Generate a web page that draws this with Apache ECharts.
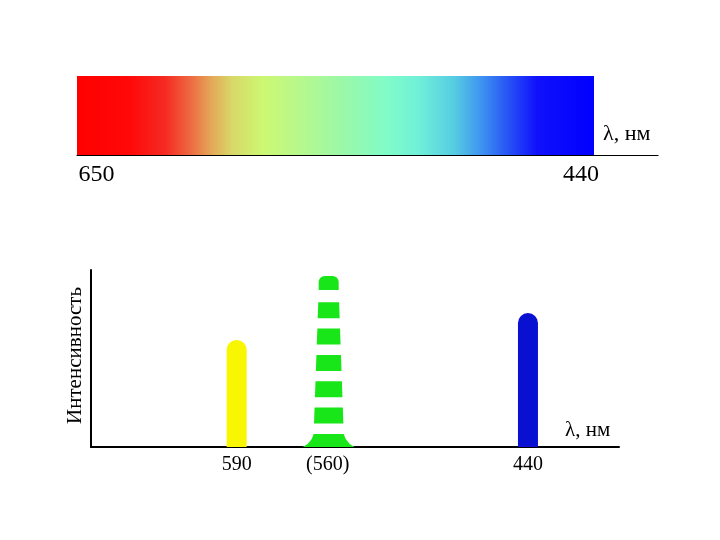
<!DOCTYPE html>
<html><head><meta charset="utf-8">
<script src="https://cdn.jsdelivr.net/npm/echarts@6/dist/echarts.min.js"></script>
<style>html,body{margin:0;background:#fff}#c{width:720px;height:540px}</style>
</head><body><div id="c"></div>
<script>
// ---- data ----
const spectrumRange = [650, 440];          // visible spectrum band (nm)
const spectrumTicks = [650, 440];          // tick labels under the band
const axisUnit = 'λ, нм';
const yTitle = 'Интенсивность';
const lineLabels = ['590', '(560)', '440'];  // emission lines
const lineIntensity = [60.5, 96.6, 75.7];
const lineSlots = [8, 13, 24];               // category slot of each line
const slotCount = 30;

// ---- build ----
const categories = Array.from({length: slotCount}, (_, i) => {
  const k = lineSlots.indexOf(i);
  return k >= 0 ? lineLabels[k] : '';
});
const SERIF = '"Liberation Serif", "DejaVu Serif", serif';
const colors = ['#f8f600', '#18e618', '#0a10d2'];

const gradStops = [
  [0, '#ff0000'], [0.1, '#ff0808'], [0.17, '#f52a22'], [0.22, '#ee6a42'],
  [0.26, '#e4a858'], [0.3, '#d8d868'], [0.36, '#ccf872'], [0.44, '#b4f890'],
  [0.52, '#98f8aa'], [0.6, '#80fcc8'], [0.66, '#70f0d8'], [0.73, '#56cce2'],
  [0.78, '#3f96f0'], [0.83, '#2858f4'], [0.89, '#1010fc'], [1, '#0000ff']
].map(s => ({offset: s[0], color: s[1]}));

const chart = echarts.init(document.getElementById('c'));
chart.setOption({
  backgroundColor: '#fff',
  animation: false,
  grid: [
    {left: 77, right: 62, top: 76, bottom: 385},
    {left: 91, right: 101, top: 270, bottom: 93}
  ],
  xAxis: [
    {
      gridIndex: 0, type: 'value', inverse: true, min: 414, max: 650,
      axisLine: {show: true, lineStyle: {color: '#000', width: 1.2}},
      axisTick: {show: false}, splitLine: {show: false},
      axisLabel: {
        customValues: spectrumTicks, margin: 8,
        fontFamily: SERIF, fontSize: 24, color: '#000',
        formatter: v => v === spectrumTicks[0] ? '{l|' + v + '}' : '{r|' + v + '}',
        rich: {
          l: {fontFamily: SERIF, fontSize: 24, color: '#000', padding: [0, 0, 0, 39]},
          r: {fontFamily: SERIF, fontSize: 24, color: '#000', padding: [0, 26, 0, 0]}
        }
      },
      name: axisUnit, nameLocation: 'start', nameGap: -55,
      nameTextStyle: {fontFamily: SERIF, fontSize: 22, color: '#000', verticalAlign: 'bottom', padding: [0, 0, 10, 0]}
    },
    {
      gridIndex: 1, type: 'category', data: categories, boundaryGap: false,
      axisLine: {show: true, lineStyle: {color: '#000', width: 2}},
      axisTick: {show: false}, splitLine: {show: false},
      axisLabel: {interval: 0, margin: 8, fontFamily: SERIF, fontSize: 20, color: '#000'},
      name: axisUnit, nameLocation: 'end', nameGap: -54,
      nameTextStyle: {fontFamily: SERIF, fontSize: 21, color: '#000', verticalAlign: 'bottom', padding: [0, 0, 6, 0]}
    }
  ],
  yAxis: [
    {gridIndex: 0, type: 'value', min: 0, max: 1, show: false},
    {
      gridIndex: 1, type: 'value', min: 0, max: 100,
      axisLine: {show: true, lineStyle: {color: '#000', width: 2}},
      axisTick: {show: false}, axisLabel: {show: false}, splitLine: {show: false},
      name: yTitle, nameLocation: 'middle', nameRotate: 90, nameGap: 5,
      nameTextStyle: {fontFamily: SERIF, fontSize: 21, color: '#000', padding: [0, 0, 0, 6]}
    }
  ],
  series: [
    {
      type: 'custom', xAxisIndex: 0, yAxisIndex: 0,
      data: [[spectrumRange[0], spectrumRange[1]]],
      renderItem: (params, api) => {
        const a = api.coord([api.value(0), 1]);
        const b = api.coord([api.value(1), 0]);
        return {
          type: 'rect',
          shape: {x: a[0], y: a[1], width: b[0] - a[0], height: b[1] - a[1]},
          style: {fill: new echarts.graphic.LinearGradient(0, 0, 1, 0, gradStops)}
        };
      }
    },
    {
      type: 'bar', xAxisIndex: 1, yAxisIndex: 1, barWidth: 20,
      data: [0, 2].map(i => ({
        value: [lineSlots[i], lineIntensity[i]],
        itemStyle: {color: colors[i], borderRadius: [10, 10, 0, 0]}
      }))
    },
    {
      type: 'custom', xAxisIndex: 1, yAxisIndex: 1,
      data: [[lineSlots[1], lineIntensity[1]]],
      renderItem: (params, api) => {
        const top = api.coord([api.value(0), api.value(1)]);
        const base = api.coord([api.value(0), 0]);
        const cx = top[0] + 1, H = base[1] - top[1];
        const period = 26.3, dash = 16, w0 = 19, w1 = 31, flareH = 14;
        const fill = colors[1];
        const kids = [];
        const wAt = y => w0 + (w1 - w0) * (y - top[1]) / H;
        let y = top[1], first = true;
        while (y < base[1] - flareH - 1) {
          const h = first ? 14 : dash;
          const y2 = Math.min(y + h, base[1] - flareH);
          if (first) {
            kids.push({type: 'rect', shape: {x: cx - 10, y: y, width: 20, height: y2 - y, r: [6, 6, 0, 0]}, style: {fill}});
          } else {
            const wa = wAt(y), wb = wAt(y2);
            kids.push({type: 'polygon', shape: {points: [[cx - wa / 2, y], [cx + wa / 2, y], [cx + wb / 2, y2], [cx - wb / 2, y2]]}, style: {fill}});
          }
          first = false;
          y += period;
        }
        const fy = base[1] - flareH + 1, by = base[1];
        kids.push({type: 'polygon', shape: {points: [
          [cx - 15, fy], [cx + 15, fy], [cx + 17, fy + 5], [cx + 21, by - 3], [cx + 26, by],
          [cx - 26, by], [cx - 21, by - 3], [cx - 17, fy + 5]
        ]}, style: {fill}});
        return {type: 'group', children: kids};
      }
    }
  ]
});
</script></body></html>
